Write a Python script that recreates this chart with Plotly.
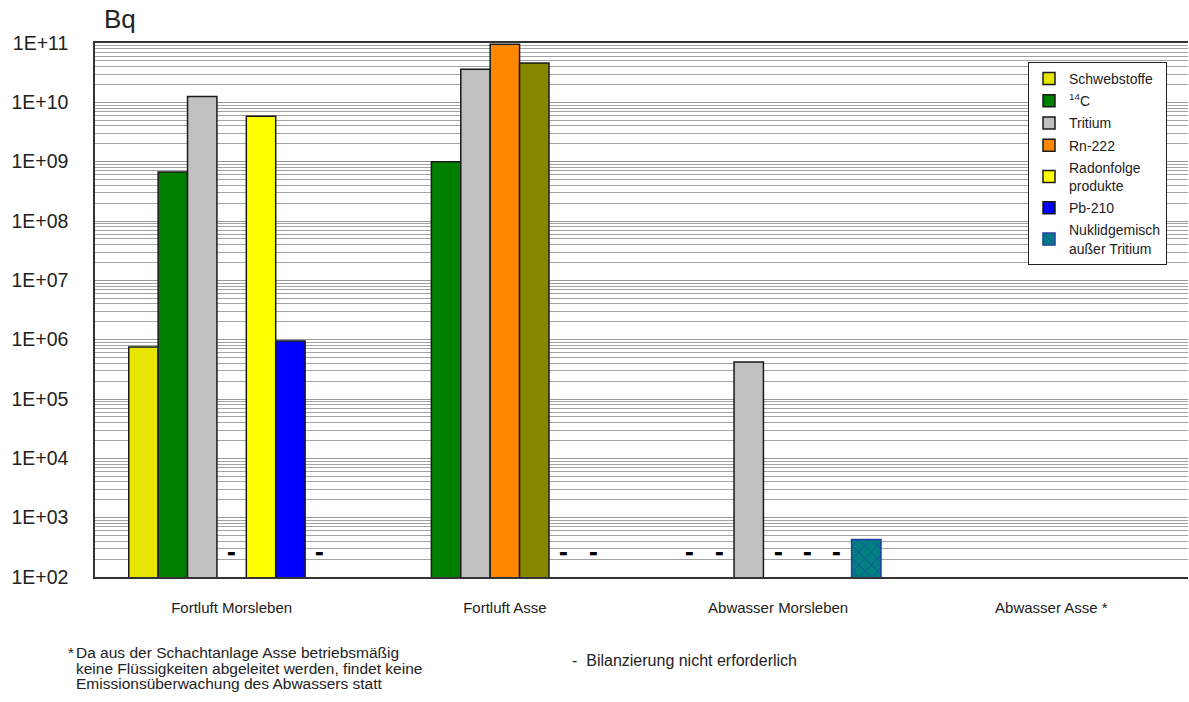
import math
import plotly.graph_objects as go

# ---------------- data ----------------
categories = ["Fortluft Morsleben", "Fortluft Asse", "Abwasser Morsleben", "Abwasser Asse *"]

series_names = ["Schwebstoffe", "<sup>14</sup>C", "Tritium", "Rn-222",
                "Radonfolge<br>produkte", "Pb-210", "Nuklidgemisch<br>außer Tritium"]

schwebstoffe = [7.5e5, None, None, None]
c14 = [6.7e8, 1.0e9, None, None]
tritium = [1.26e10, 3.6e10, 4.2e5, None]
rn222 = [None, 9.5e10, None, None]
radonfolge = [5.8e9, 4.6e10, None, None]
pb210 = [9.5e5, None, None, None]
nuklidgemisch = [None, None, 4.3e2, None]

# "-" = Bilanzierung nicht erforderlich (category, series index)
dash_categories = ["Fortluft Morsleben", "Fortluft Morsleben", "Fortluft Asse", "Fortluft Asse",
                   "Abwasser Morsleben", "Abwasser Morsleben", "Abwasser Morsleben",
                   "Abwasser Morsleben", "Abwasser Morsleben"]
dash_series = [3, 6, 5, 6, 0, 1, 3, 4, 5]
dash_level = 2.5e2

y_tick_values = [1e2, 1e3, 1e4, 1e5, 1e6, 1e7, 1e8, 1e9, 1e10, 1e11]
y_tick_labels = ["1E+02", "1E+03", "1E+04", "1E+05", "1E+06", "1E+07",
                 "1E+08", "1E+09", "1E+10", "1E+11"]

footnote_lines = ["Da aus der Schachtanlage Asse betriebsmäßig",
                  "keine Flüssigkeiten abgeleitet werden, findet keine",
                  "Emissionsüberwachung des Abwassers statt"]

# ---------------- figure ----------------
values = [schwebstoffe, c14, tritium, rn222, radonfolge, pb210, nuklidgemisch]
colors = ["#E5E500", "#008000", "#C0C0C0", "#FF8800",
          ["#FFFF00", "#878700", "#FFFF00", "#FFFF00"], "#0000FF", "#008080"]

BARGAP = 0.247
fig = go.Figure()
for i, (name, vals, col) in enumerate(zip(series_names, values, colors)):
    marker = dict(color=col, line=dict(color="#1a1a1a", width=1.5))
    if i == 6:
        marker = dict(color="#008080", line=dict(color="#1f3fa0", width=1.5),
                      pattern=dict(shape="x", fillmode="replace", bgcolor="#008080",
                                   fgcolor="#2040a8", size=9, solidity=0.15))
    fig.add_trace(go.Bar(x=categories, y=vals, name=name, marker=marker,
                         legendgroup=str(i), hoverinfo="skip"))

n = len(series_names)
slot = (1 - BARGAP) / n
for cat, si in zip(dash_categories, dash_series):
    xpos = categories.index(cat) + (si - (n - 1) / 2) * slot
    fig.add_annotation(x=xpos, y=math.log10(dash_level), xref="x", yref="y",
                       text="▬", showarrow=False, font=dict(size=9, color="black",
                                                            family="DejaVu Sans"))

PL, PT, PW, PH = 95, 43, 1093, 534   # plot area in px


def px_x(x):
    return (x - PL) / PW


def px_y(y):
    return (PT + PH - y) / PH


fig.update_layout(
    width=1189, height=702,
    margin=dict(l=PL, r=1189 - PL - PW, t=PT, b=702 - PT - PH, autoexpand=False),
    barmode="group", bargap=BARGAP, bargroupgap=0,
    plot_bgcolor="white", paper_bgcolor="white",
    font=dict(family="Liberation Sans, Arial", color="#222222"),
    legend=dict(x=px_x(1028), y=px_y(62), xanchor="left", yanchor="top",
                bgcolor="white", bordercolor="#222222", borderwidth=1,
                font=dict(size=14, color="#222222"), traceorder="grouped",
                tracegroupgap=1, itemwidth=30, itemclick=False),
    showlegend=True,
)

fig.update_xaxes(
    type="category", showgrid=False, showline=True, linecolor="#333333", linewidth=1.5,
    mirror=True, ticks="", tickfont=dict(size=15, color="#222222"), ticklabelstandoff=16,
    automargin=False,
)
fig.update_yaxes(
    type="log", range=[2, 11], tickmode="array", tickvals=y_tick_values,
    ticktext=y_tick_labels, tickfont=dict(size=19.5, color="#222222"),
    ticklabelstandoff=21, showline=True, linecolor="#333333", linewidth=1.5,
    showgrid=True, gridcolor="#999999", gridwidth=1, zeroline=False,
    minor=dict(dtick="D1", showgrid=True, gridcolor="#a3a3a3", gridwidth=1, ticks=""),
    automargin=False,
)

# unit label
fig.add_annotation(x=px_x(102), y=px_y(19), xref="paper", yref="paper",
                   text="Bq", showarrow=False, xanchor="left", yanchor="middle",
                   font=dict(size=26, color="#222222"))

# footnotes
fig.add_annotation(x=px_x(66), y=px_y(652), xref="paper", yref="paper",
                   text="*", showarrow=False, xanchor="left", yanchor="middle",
                   font=dict(size=15, color="#222222"))
for line, yc in zip(footnote_lines, [652, 668, 683]):
    fig.add_annotation(x=px_x(74), y=px_y(yc), xref="paper", yref="paper",
                       text=line, showarrow=False, xanchor="left", yanchor="middle",
                       font=dict(size=15.5, color="#222222"))
fig.add_annotation(x=px_x(570), y=px_y(660), xref="paper", yref="paper",
                   text="-  Bilanzierung nicht erforderlich", showarrow=False,
                   xanchor="left", yanchor="middle", font=dict(size=16, color="#222222"))

fig.write_html("out.html", config={"displayModeBar": False},
               post_script="document.body.style.margin='0';")
